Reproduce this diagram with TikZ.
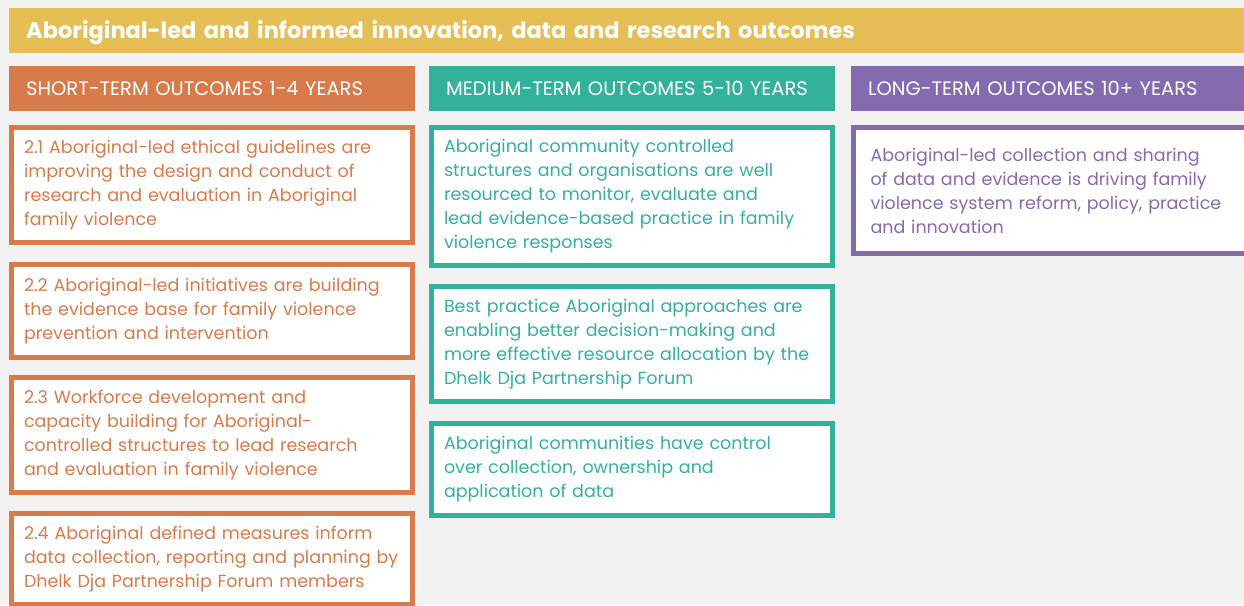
\documentclass[tikz,border=0pt]{standalone}
\usepackage{fontspec}
\setmainfont{Poppins}

\definecolor{PageGrey}{HTML}{F1F2F1}
\definecolor{ThemeGold}{HTML}{E5BE55}
\definecolor{ShortTerm}{HTML}{D87B4B}
\definecolor{MediumTerm}{HTML}{34B19B}
\definecolor{LongTerm}{HTML}{846BAF}

\tikzset{
  banner/.style={fill=#1, text=white, anchor=north west, align=left,
    inner xsep=17pt, inner ysep=0pt, minimum height=45pt},
  outcome/.style={draw=#1, line width=5pt, fill=white, text=#1, anchor=north west,
    align=left, inner xsep=12.5pt, inner ysep=0pt, text width=376pt,
    font=\fontsize{17.5}{24}\selectfont},
}

\begin{document}
\begin{tikzpicture}[x=1pt, y=-1pt]

 %%%%%%%%%% Page %%%%%%%%%%
 \fill [PageGrey] (0,0) rectangle (1244,605);
 \clip (0,0) rectangle (1244,605);

 %%%%%%%%%% Theme banner %%%%%%%%%%
 \node (theme) [banner=ThemeGold, text width=1207pt, text height=16pt, text depth=0pt,
   font=\fontsize{22.5}{26}\bfseries\selectfont]
   at (9,8) {Aboriginal-led and informed innovation, data and research outcomes};

 %%%%%%%%%% Column headers %%%%%%%%%%
 \node (shorthead) [banner=ShortTerm, text width=372pt, font=\fontsize{19.5}{22}\selectfont]
   at (9,66) {SHORT-TERM OUTCOMES 1-4 YEARS};
 \node (medhead) [banner=MediumTerm, text width=372pt, font=\fontsize{19.5}{22}\selectfont]
   at (429,66) {MEDIUM-TERM OUTCOMES 5-10 YEARS};
 \node (longhead) [banner=LongTerm, text width=372pt, font=\fontsize{19.5}{22}\selectfont]
   at (851,66) {LONG-TERM OUTCOMES 10+ YEARS};

 %%%%%%%%%% Short-term outcomes %%%%%%%%%%
 \node (s1) [outcome=ShortTerm, minimum width=401pt, minimum height=115pt] at (9,125)
   {2.1 Aboriginal-led ethical guidelines are\\improving the design and conduct of\\research and evaluation in Aboriginal\\family violence};
 \node (s2) [outcome=ShortTerm, minimum width=401pt, minimum height=93pt] at (9,262)
   {2.2 Aboriginal-led initiatives are building\\the evidence base for family violence\\prevention and intervention};
 \node (s3) [outcome=ShortTerm, minimum width=401pt, minimum height=115pt] at (9,375)
   {2.3 Workforce development and\\capacity building for Aboriginal-\\controlled structures to lead research\\and evaluation in family violence};
 \node (s4) [outcome=ShortTerm, minimum width=401pt, minimum height=91pt] at (9,511)
   {2.4 Aboriginal defined measures inform\\data collection, reporting and planning by\\Dhelk Dja Partnership Forum members};

 %%%%%%%%%% Medium-term outcomes %%%%%%%%%%
 \node (m1) [outcome=MediumTerm, minimum width=401pt, minimum height=138pt] at (429,125)
   {Aboriginal community controlled\\structures and organisations are well\\resourced to monitor, evaluate and\\lead evidence-based practice in family\\violence responses};
 \node (m2) [outcome=MediumTerm, minimum width=401pt, minimum height=115pt] at (429,284)
   {Best practice Aboriginal approaches are\\enabling better decision-making and\\more effective resource allocation by the\\Dhelk Dja Partnership Forum};
 \node (m3) [outcome=MediumTerm, minimum width=401pt, minimum height=92pt] at (429,421)
   {Aboriginal communities have control\\over collection, ownership and\\application of data};

 %%%%%%%%%% Long-term outcomes %%%%%%%%%%
 \node (l1) [outcome=LongTerm, minimum width=410pt, minimum height=126pt] at (851,125)
   {Aboriginal-led collection and sharing\\of data and evidence is driving family\\violence system reform, policy, practice\\and innovation};

\end{tikzpicture}
\end{document}
